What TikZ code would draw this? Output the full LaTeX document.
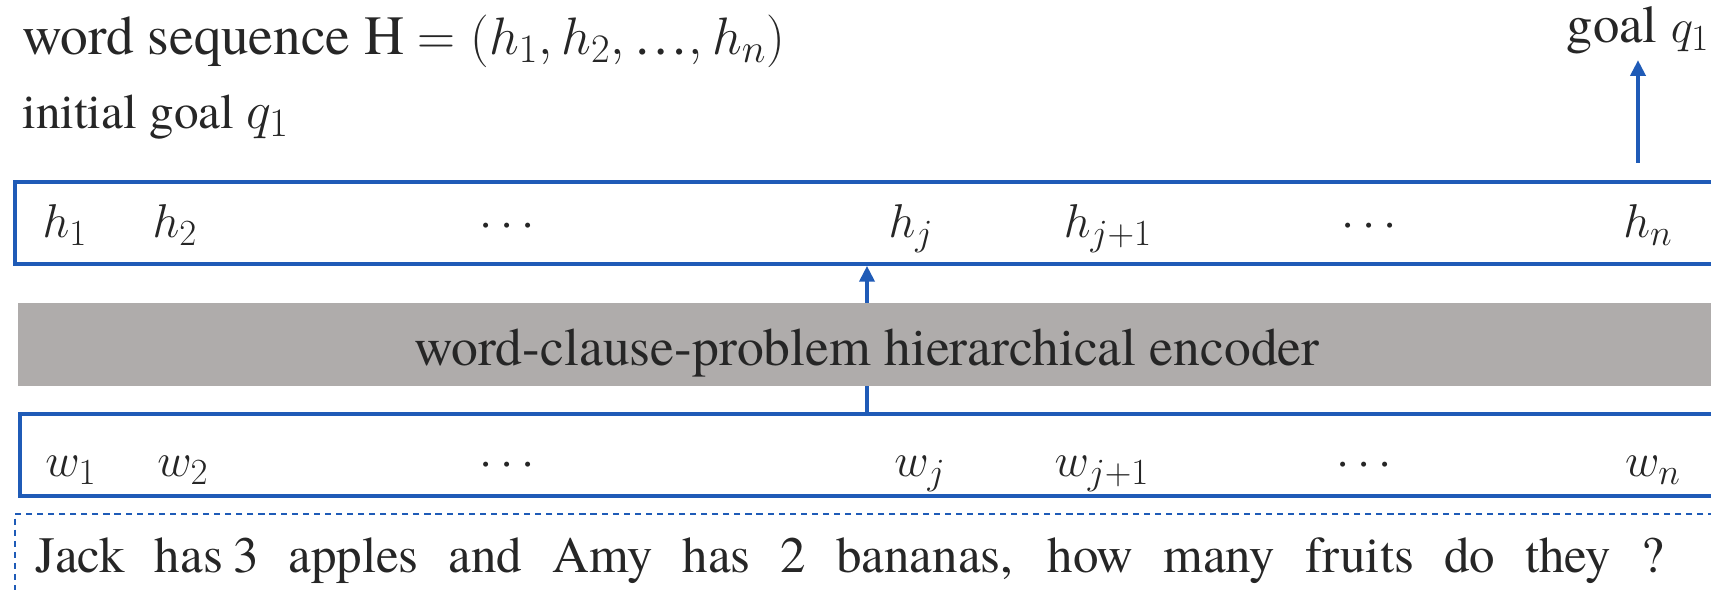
\RequirePackage{fix-cm}
\documentclass[tikz,border=0pt]{standalone}
\usepackage{fontspec}
\setmainfont{texgyretermes}[Extension=.otf, UprightFont=*-regular, ItalicFont=*-italic, BoldFont=*-bold, BoldItalicFont=*-bolditalic]
\DeclareMathSizes{30}{27}{21}{16}
\DeclareMathSizes{31.5}{30}{23}{17}
\DeclareMathSizes{28}{30}{23}{17}
\usetikzlibrary{arrows.meta}
\definecolor{encblue}{RGB}{31,91,183}
\definecolor{encgray}{RGB}{175,172,171}
\definecolor{txtgray}{RGB}{38,38,38}
\tikzset{
  seqbox/.style={draw=encblue, line width=2.2pt, anchor=north west, inner sep=0pt, minimum width=34.4cm, minimum height=1.64cm},
  encbox/.style={fill=encgray, anchor=north west, inner sep=0pt, minimum width=34.4cm, minimum height=1.66cm},
  probbox/.style={draw=encblue, line width=0.9pt, dash pattern=on 3.5pt off 2.8pt, anchor=north west, inner sep=0pt, minimum width=34.6cm, minimum height=2cm},
  arr/.style={draw=encblue, line width=2.2pt, -{Triangle[length=9pt, width=8.5pt]}},
  lbl/.style={anchor=base, inner sep=0pt, text=txtgray, font=\fontsize{30}{36}\selectfont},
  bigtxt/.style={anchor=base west, inner sep=0pt, text=txtgray, font=\fontsize{31.5}{38}\selectfont}
}
\begin{document}
\begin{tikzpicture}[x=0.02cm, y=-0.02cm]
    \useasboundingbox (0,0) rectangle (1711,590);
    \clip (0,0) rectangle (1711,590);
    % heading
    \node[bigtxt] (seqtxt) at (22,55) {word sequence H $= (h_1, h_2, \mbox{…}, h_n)$};
    \node[bigtxt, font=\fontsize{28}{34}\selectfont] (inittxt) at (22,129) {initial goal $q_1$};
    \node[lbl, inner sep=3pt] (goal) at (1638,43) {goal $q_1$};
    % boxes
    \node[seqbox] (hbox) at (13,180) {};
    \node[seqbox] (wbox) at (18,412) {};
    \node[lbl] (enctext) at (867,366) {};
    \draw[arr] (wbox.north -| enctext) -- (hbox.south -| enctext);
    \node[encbox] (enc) at (18,303) {};
    \node[bigtxt, anchor=base, font=\fontsize{30.5}{36}\selectfont] at (enctext) {word-clause-problem hierarchical encoder};
    \draw[arr] ([yshift=0.34cm]hbox.north -| goal) -- (goal.south);
    % hidden states
    \node[lbl] (h1) at (65,238) {$h_1$};
    \node[lbl] (h2) at (175,238) {$h_2$};
    \node[lbl] (hd1) at (507,238) {$\cdots$};
    \node[lbl] (hj) at (911,238) {$h_j$};
    \node[lbl] (hj1) at (1108,238) {$h_{j+1}$};
    \node[lbl] (hd2) at (1369,238) {$\cdots$};
    \node[lbl] (hn) at (1648,238) {$h_n$};
    % words
    \node[lbl] (w1) at (71,477) {$w_1$};
    \node[lbl] (w2) at (183,477) {$w_2$};
    \node[lbl] (wd1) at (507,477) {$\cdots$};
    \node[lbl] (wj) at (920,477) {$w_j$};
    \node[lbl] (wj1) at (1102,477) {$w_{j+1}$};
    \node[lbl] (wd2) at (1364,477) {$\cdots$};
    \node[lbl] (wn) at (1653,477) {$w_n$};
    % problem text
    \node[probbox] (prob) at (14,513) {};
    \node[bigtxt, font=\fontsize{29}{34}\selectfont] (probtxt) at (35,573)
        {\makebox[32.58cm][s]{Jack has\kern0.2em3 apples and Amy has 2 bananas, how many fruits do they ?}};
\end{tikzpicture}
\end{document}
